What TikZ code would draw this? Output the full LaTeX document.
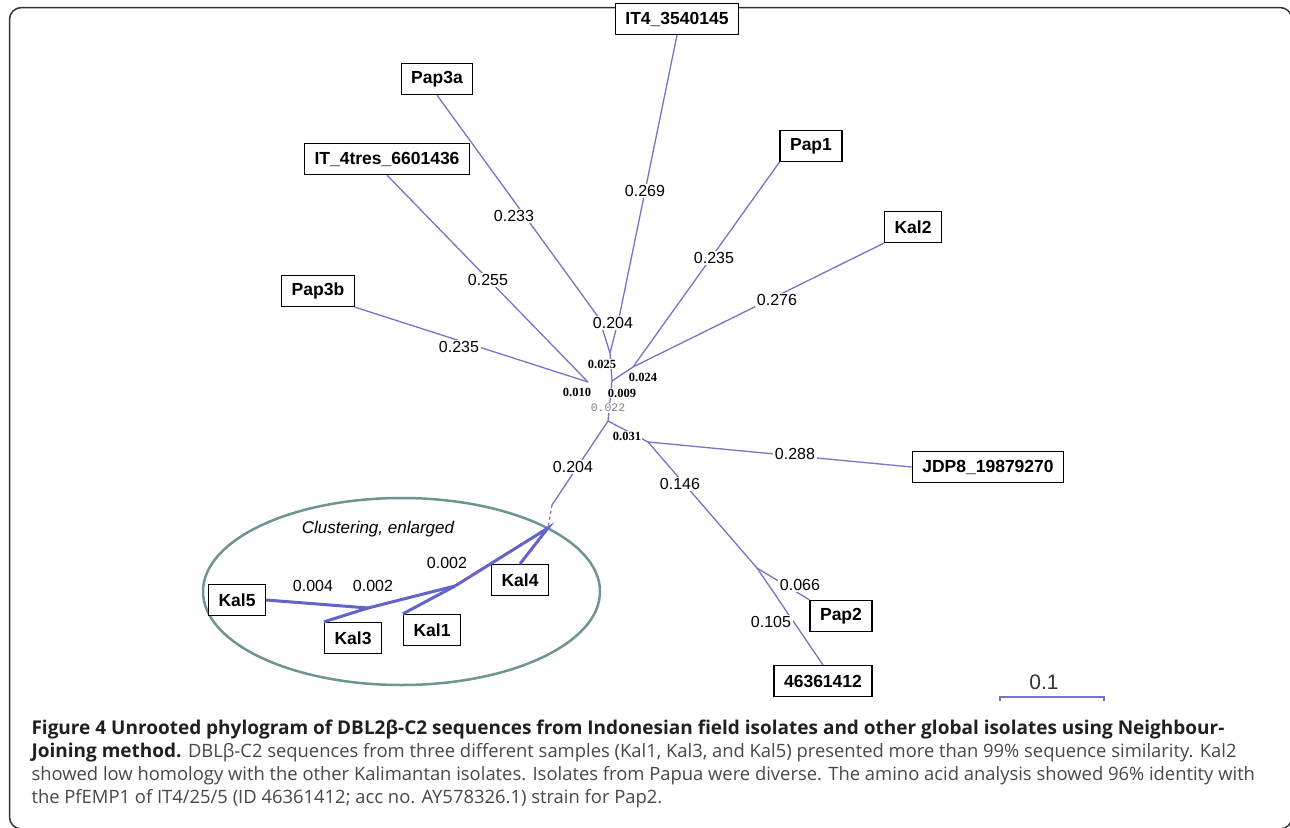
\documentclass[tikz,border=0pt]{standalone}
\usepackage{fontspec}
\usepackage{xcolor}
\setmainfont{Liberation Sans}
\newfontfamily\capfont{Open Sans}
\newfontfamily\serifnum{Liberation Serif}
\newfontfamily\mononum{Liberation Mono}
\definecolor{branchblue}{HTML}{7474C9}
\definecolor{clusterblue}{HTML}{6464C8}
\definecolor{ringgrey}{HTML}{6E9494}
\definecolor{captext}{HTML}{474747}
\definecolor{capbold}{HTML}{231F20}
\newcommand{\capbf}{\fontsize{19}{23}\selectfont\bfseries}

\begin{document}
\begin{tikzpicture}[x=1pt,y=-1pt,
        leaf/.style={draw=black,line width=1.3pt,fill=white,inner xsep=10pt,inner ysep=0pt,
            minimum height=31pt,font=\fontsize{17.5}{20}\selectfont\bfseries},
        blen/.style={fill=white,inner sep=1.5pt,font=\fontsize{16}{18}\selectfont},
        shortlen/.style={fill=white,inner sep=1pt,font=\serifnum\fontsize{12.5}{14}\selectfont\bfseries},
        twig/.style={draw=branchblue,line width=1.3pt},
        clust/.style={draw=clusterblue,line width=3pt},
        capline/.style={anchor=base west,font=\capfont\fontsize{18.4}{23}\selectfont}
    ]
        \useasboundingbox (0,0) rectangle (1290,827);
        \draw[line width=1.5pt,draw=black!80,rounded corners=12pt] (9.5,7.5) rectangle (1292,829);

        \node[leaf] (it4) at (677,19) {IT4\_3540145};
        \node[leaf] (pap3a) at (437,79) {Pap3a};
        \node[leaf] (pap1) at (811,146) {Pap1};
        \node[leaf] (it4tres) at (387,159) {IT\_4tres\_6601436};
        \node[leaf] (kal2) at (913,227) {Kal2};
        \node[leaf] (pap3b) at (318,291) {Pap3b};
        \node[leaf] (jdp8) at (988,467) {JDP8\_19879270};
        \node[leaf] (pap2) at (841,616) {Pap2};
        \node[leaf] (id4636) at (823,681) {46361412};

        \coordinate (a1) at (599,318);
        \coordinate (i1) at (619,318);
        \coordinate (j1) at (610,353);
        \coordinate (j2) at (612,381);
        \coordinate (j3) at (633,367);
        \coordinate (j4) at (588,382);
        \coordinate (j5) at (608,421);
        \coordinate (j6) at (648,442);
        \coordinate (j7) at (757,568);
        \coordinate (b0) at (552,505);
        \coordinate (r0) at (548,528);
        \coordinate (c1) at (455,586);
        \coordinate (c2) at (368,608);

        \draw[twig] (pap3a.south) -- (a1) -- (j1);
        \draw[twig] (it4.south) -- (i1) -- (j1);
        \draw[twig] (j1) -- (j2);
        \draw[twig] (pap1.south west) -- (j3);
        \draw[twig] (kal2.south west) -- (j3);
        \draw[twig] (j3) -- (j2);
        \draw[twig] (it4tres.south) -- (j4);
        \draw[twig] (pap3b.south east) -- (j4);
        \draw[twig] (j2) -- (j5);
        \draw[twig] (j5) -- (j6);
        \draw[twig] (j6) -- (jdp8.west);
        \draw[twig] (j6) -- (j7);
        \draw[twig] (j7) -- (pap2.north west);
        \draw[twig] (j7) -- (id4636.north);
        \draw[twig] (j5) -- (b0);
        \draw[twig,dashed] (b0) -- (r0);

        \node[blen] (l269) at (645,191) {0.269};
        \node[blen] (l233) at (514,216) {0.233};
        \node[blen] (l235a) at (714,258) {0.235};
        \node[blen] (l276) at (777,300) {0.276};
        \node[blen] (l255) at (488,280) {0.255};
        \node[blen] (l204a) at (613,323) {0.204};
        \node[blen] (l235b) at (459,347) {0.235};
        \node[blen] (l288) at (795,454) {0.288};
        \node[blen] (l204b) at (573,467) {0.204};
        \node[blen] (l146) at (680,484) {0.146};
        \node[blen] (l066) at (800,585) {0.066};
        \node[blen] (l105) at (771,622) {0.105};

        \node[shortlen] (l025) at (602,364) {0.025};
        \node[shortlen] (l024) at (643,377) {0.024};
        \node[shortlen] (l010) at (577,392) {0.010};
        \node[shortlen] (l009) at (622,393) {0.009};
        \node[shortlen] (l031) at (627,436) {0.031};
        \node[fill=white,inner sep=1pt,text=black!50,font=\mononum\fontsize{11.5}{13}\selectfont] (l022) at (608,408) {0.022};

        \draw[draw=ringgrey,line width=2.5pt] (401.5,591.5) ellipse [x radius=198.5pt,y radius=93.5pt];
        \node[font=\fontsize{17}{20}\selectfont\itshape] (cltitle) at (378,529) {Clustering, enlarged};

        \node[leaf] (kal5) at (237,600) {Kal5};
        \node[leaf] (kal3) at (353,638) {Kal3};
        \node[leaf] (kal1) at (432,630) {Kal1};
        \node[leaf] (kal4) at (520,580) {Kal4};

        \draw[clust] (kal4.north) -- (r0) -- (c1) -- (c2) -- (kal5.east);
        \draw[clust] (c1) -- (kal1.north west);
        \draw[clust] (c2) -- (kal3.north west);

        \node[blen,fill=none] (l004) at (313,586) {0.004};
        \node[blen,fill=none] (l002a) at (373,586) {0.002};
        \node[blen,fill=none] (l002b) at (447,563) {0.002};

        \coordinate (sbl) at (1000,697);
        \coordinate (sbr) at (1104,697);
        \draw[twig,line width=1.2pt] ([yshift=-4pt]sbl) -- (sbl) -- (sbr) -- ([yshift=-4pt]sbr);
        \node[text=black!80,font=\fontsize{21}{24}\selectfont] (sblabel) at (1044,682) {0.1};

        \node[capline,text=capbold] (cap1) at (28,734) {\capbf Figure 4 Unrooted phylogram of DBL2β-C2 sequences from Indonesian field isolates and other global isolates using Neighbour-};
        \node[capline,text=captext] (cap2) at (28,757) {\textcolor{capbold}{\capbf Joining method.} DBLβ-C2 sequences from three different samples (Kal1, Kal3, and Kal5) presented more than 99\% sequence similarity. Kal2};
        \node[capline,text=captext] (cap3) at (28,780) {showed low homology with the other Kalimantan isolates. Isolates from Papua were diverse. The amino acid analysis showed 96\% identity with};
        \node[capline,text=captext] (cap4) at (28,803) {the PfEMP1 of IT4/25/5 (ID 46361412; acc no. AY578326.1) strain for Pap2.};
    \end{tikzpicture}
\end{document}
